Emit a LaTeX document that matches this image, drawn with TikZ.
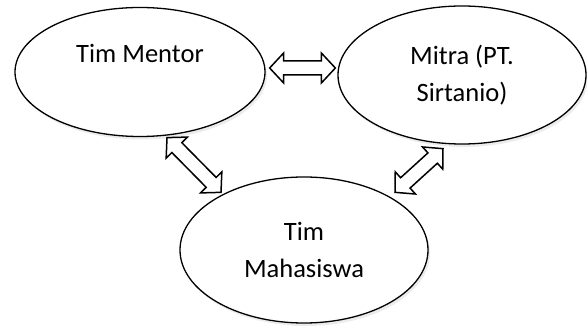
\documentclass[tikz,border=0pt]{standalone}
\usepackage{fontspec}
\setmainfont{Carlito}
\usepackage{tikz}
\usetikzlibrary{calc, shapes.geometric, shadows}

\tikzset{
    team/.style={ellipse, draw, line width=1.3pt, fill=white, inner sep=0pt, align=center,
        font=\fontsize{26.5}{37}\selectfont,
        drop shadow={opacity=0.15, shadow xshift=2pt, shadow yshift=-3pt}},
    blockarrow/.style={draw, line width=1.5pt, fill=white, line join=miter}
}
% two-headed block arrow between two coordinates
\newcommand{\duoarrow}[2]{%
    \draw[blockarrow] (#1)
        -- ($(#1)!14pt!(#2)!15pt!90:(#2)$) -- ($(#1)!14pt!(#2)!7pt!90:(#2)$)
        -- ($(#2)!14pt!(#1)!7pt!-90:(#1)$) -- ($(#2)!14pt!(#1)!15pt!-90:(#1)$)
        -- (#2)
        -- ($(#2)!14pt!(#1)!15pt!90:(#1)$) -- ($(#2)!14pt!(#1)!7pt!90:(#1)$)
        -- ($(#1)!14pt!(#2)!7pt!-90:(#2)$) -- ($(#1)!14pt!(#2)!15pt!-90:(#2)$)
        -- cycle;}

\begin{document}
\begin{tikzpicture}[x=1pt, y=-1pt]
    \useasboundingbox (0,0) rectangle (587,328);

    \node[team, minimum width=250pt, minimum height=129pt] (mentor) at (140,72) {Tim Mentor\\\phantom{T}};
    \node[team, minimum width=248pt, minimum height=138pt] (mitra) at (462,75) {Mitra (PT.\\Sirtanio)};
    \node[team, minimum width=248pt, minimum height=146pt] (mahasiswa) at (304,250) {Tim\\Mahasiswa};

    \coordinate (mm1) at ($(mentor.east)+(4,-4)$);
    \coordinate (mm2) at ($(mitra.west)+(-2,-7)$);
    \coordinate (mh1) at ($(mentor.south)+(27,0.5)$);
    \coordinate (mh2) at ($(mahasiswa.north)+(-83,16)$);
    \coordinate (th1) at ($(mitra.south)+(-19,4)$);
    \coordinate (th2) at ($(mahasiswa.north)+(91,16)$);

    \duoarrow{mm1}{mm2}
    \duoarrow{mh1}{mh2}
    \duoarrow{th1}{th2}
\end{tikzpicture}
\end{document}
